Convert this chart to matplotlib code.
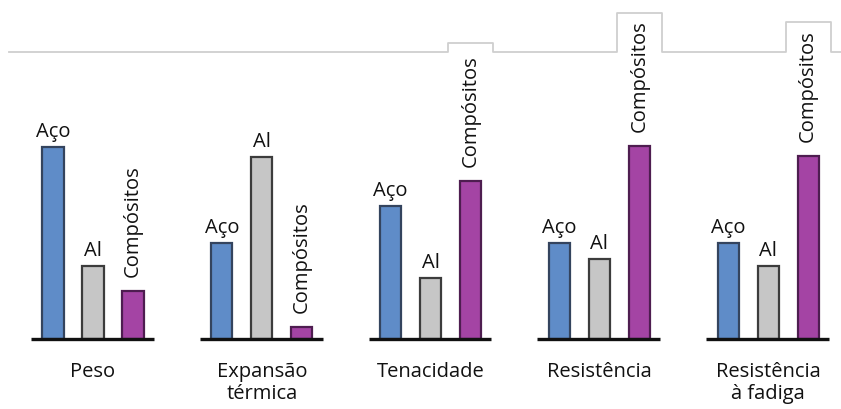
import matplotlib
matplotlib.use("Agg")
import matplotlib.pyplot as plt

plt.rcParams['font.family'] = ['Open Sans', 'DejaVu Sans']

# Relative comparison of materials for each property
properties = ["Peso", "Expansão\ntérmica", "Tenacidade", "Resistência", "Resistência\nà fadiga"]
materials = ["Aço", "Al", "Compósitos"]
aco = [192, 96, 133, 96, 96]
al = [73, 182, 61, 80, 73]
compositos = [48, 12, 158, 193, 183]

series = [aco, al, compositos]
face_colors = ["#5f8cc8", "#c6c6c6", "#a444a4"]
edge_colors = ["#34445e", "#3c3c3c", "#4e1d50"]

group_step = 4.22
bar_step = 1.0
bar_width = 0.53
fs = 14.5

fig = plt.figure(figsize=(8.41, 4.10), dpi=100)
ax = fig.add_axes([0, 0, 1, 1])
ax.set_xlim(-2.325, 18.7)
ax.set_ylim(-70, 340)
ax.axis("off")

for g, prop in enumerate(properties):
    center = g * group_step
    for k, (vals, name) in enumerate(zip(series, materials)):
        x = center + (k - 1) * bar_step
        v = vals[g]
        ax.bar(x, v, width=bar_width, color=face_colors[k],
               edgecolor=edge_colors[k], linewidth=1.6, zorder=2)
        if k < 2:
            ax.annotate(name, (x, v), xytext=(0, 8), textcoords="offset points",
                        ha="center", va="baseline", fontsize=fs, color="#111111")
        else:
            ax.annotate(name, (x, v), xytext=(0, 10.5), textcoords="offset points",
                        ha="center", va="bottom", rotation=90, fontsize=fs,
                        color="#111111", zorder=4)
    # property baseline
    ax.plot([center - 1.55, center + 1.52], [0, 0], color="#111111",
            linewidth=2.4, solid_capstyle="butt", zorder=3)
    ax.text(center, -22, prop, ha="center", va="top", fontsize=fs,
            color="#111111", linespacing=1.12)

# top rule with raised tabs behind the vertical labels
rule_y = 287
tab_tops = {2: 296, 3: 326, 4: 317}
tab_half = 0.56
xs = [-2.1]
ys = [rule_y]
for g in sorted(tab_tops):
    cx = g * group_step + bar_step
    xs += [cx - tab_half, cx - tab_half, cx + tab_half, cx + tab_half]
    ys += [rule_y, tab_tops[g], tab_tops[g], rule_y]
xs.append(18.7)
ys.append(rule_y)
ax.plot(xs, ys, color="#cfcfcf", linewidth=1.3, zorder=1)

fig.savefig("out.png", dpi=100, facecolor="white")
